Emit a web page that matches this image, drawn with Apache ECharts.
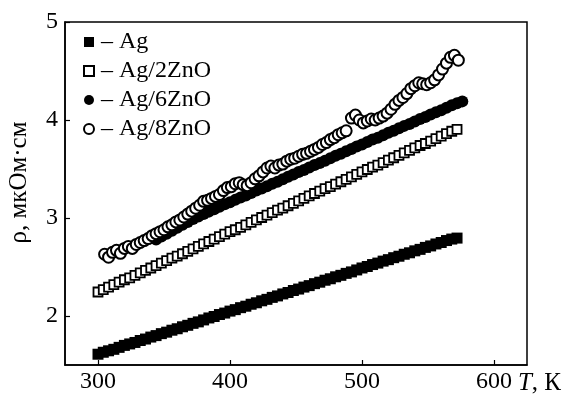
<!DOCTYPE html>
<html>
<head>
<meta charset="utf-8">
<script src="https://cdn.jsdelivr.net/npm/echarts@6/dist/echarts.min.js"></script>
<style>
html,body{margin:0;padding:0;background:#fff;}
#chart{width:566px;height:394px;}
</style>
</head>
<body>
<div id="chart"></div>
<script>
// Temperatures (K) for Ag and Ag/2ZnO
var tempA = [300,304,308,312,316,320,324,328,332,336,340,344,348,352,356,360,364,368,372,376,380,384,388,392,396,400,404,408,412,416,420,424,428,432,436,440,444,448,452,456,460,464,468,472,476,480,484,488,492,496,500,504,508,512,516,520,524,528,532,536,540,544,548,552,556,560,564,568,572];
var rhoAg = [1.61,1.63,1.645,1.66,1.68,1.70,1.715,1.73,1.75,1.765,1.785,1.80,1.82,1.835,1.855,1.87,1.89,1.905,1.925,1.94,1.96,1.98,1.995,2.015,2.03,2.05,2.065,2.085,2.10,2.12,2.135,2.155,2.17,2.19,2.205,2.225,2.24,2.26,2.275,2.295,2.31,2.33,2.345,2.365,2.38,2.40,2.415,2.435,2.45,2.47,2.49,2.505,2.525,2.54,2.56,2.575,2.595,2.61,2.63,2.645,2.665,2.68,2.70,2.715,2.735,2.75,2.77,2.785,2.795];
var rho2ZnO = [2.245,2.27,2.295,2.32,2.345,2.37,2.39,2.415,2.44,2.465,2.49,2.515,2.54,2.565,2.59,2.61,2.635,2.66,2.685,2.71,2.735,2.76,2.785,2.81,2.835,2.86,2.88,2.905,2.93,2.955,2.98,3.005,3.03,3.055,3.08,3.10,3.125,3.15,3.175,3.20,3.225,3.25,3.275,3.30,3.32,3.345,3.37,3.395,3.42,3.445,3.47,3.495,3.52,3.54,3.565,3.59,3.615,3.64,3.665,3.69,3.715,3.74,3.76,3.785,3.81,3.835,3.86,3.885,3.905];
// Ag/6ZnO
var temp6 = [344,348,352,356,360,364,368,372,376,380,384,388,392,396,400,404,408,412,416,420,424,428,432,436,440,444,448,452,456,460,464,468,472,476,480,484,488,492,496,500,504,508,512,516,520,524,528,532,536,540,544,548,552,556,560,564,568,572,576];
var rho6ZnO = [2.78,2.81,2.84,2.87,2.90,2.93,2.96,2.99,3.015,3.04,3.065,3.09,3.115,3.14,3.16,3.185,3.21,3.23,3.255,3.28,3.30,3.325,3.35,3.37,3.395,3.42,3.445,3.47,3.49,3.515,3.54,3.56,3.585,3.61,3.635,3.655,3.68,3.705,3.73,3.75,3.775,3.80,3.82,3.845,3.87,3.89,3.915,3.94,3.96,3.985,4.01,4.03,4.055,4.08,4.10,4.125,4.15,4.17,4.19];
// Ag/8ZnO
var temp8 = [305,308,311,314,317,320,323,326,329,332,335,338,341,344,347,350,353,356,359,362,365,368,371,374,377,380,383,386,389,392,395,398,401,404,407,410,413,416,419,422,425,428,431,434,437,440,443,446,449,452,455,458,461,464,467,470,473,476,479,482,485,488,492,495,498,501,504,507,510,513,516,519,522,525,528,531,534,537,540,543,546,549,552,555,558,561,564,567,570,573];
var rho8ZnO = [2.63,2.60,2.65,2.67,2.64,2.69,2.71,2.69,2.73,2.75,2.77,2.79,2.82,2.84,2.86,2.88,2.91,2.93,2.96,2.98,3.01,3.04,3.07,3.10,3.13,3.17,3.18,3.20,3.22,3.24,3.28,3.31,3.32,3.35,3.36,3.34,3.33,3.36,3.40,3.43,3.47,3.51,3.53,3.51,3.54,3.55,3.58,3.60,3.61,3.63,3.65,3.66,3.68,3.70,3.72,3.75,3.77,3.80,3.82,3.85,3.87,3.89,4.02,4.05,4.00,3.97,3.99,4.01,4.00,4.02,4.04,4.07,4.11,4.16,4.20,4.23,4.27,4.32,4.35,4.38,4.37,4.36,4.38,4.41,4.46,4.52,4.58,4.64,4.66,4.61];
var names = ['Ag','Ag/2ZnO','Ag/6ZnO','Ag/8ZnO'];
var xTicks = [300,400,500,600];
var yTicks = [2,3,4,5];

function zip(a,b){var r=[];for(var i=0;i<a.length;i++){r.push([a[i],b[i]]);}return r;}

var FONT = '"Liberation Serif","Times New Roman",serif';
var chart = echarts.init(document.getElementById('chart'), null, {renderer:'canvas'});
chart.setOption({
  animation:false,
  backgroundColor:'#fff',
  grid:{left:65,right:39,top:22,bottom:29,containLabel:false,outerBoundsMode:'none',show:true,borderColor:'#000',borderWidth:1.5,backgroundColor:'transparent'},
  legend:{
    orient:'vertical',left:78,top:25,itemWidth:10,itemHeight:10,itemGap:5,selectedMode:false,
    formatter:function(n){return '\u2013 '+n;},
    textStyle:{fontFamily:FONT,fontSize:24,color:'#000',padding:[0,0,0,2]},
    data:names
  },
  xAxis:{
    type:'value',min:275,max:625,
    axisLine:{show:true,lineStyle:{color:'#000',width:1.5}},
    axisTick:{show:true,inside:true,length:5,lineStyle:{color:'#000',width:1.2},customValues:xTicks},
    axisLabel:{show:true,margin:5,color:'#000',fontFamily:FONT,fontSize:24,customValues:xTicks},
    splitLine:{show:false},
    name:'{i|T}, \u041a',nameLocation:'end',nameGap:-10,
    nameTextStyle:{color:'#000',fontFamily:FONT,fontSize:25,verticalAlign:'top',padding:[6,0,0,0],
      rich:{i:{fontStyle:'italic',fontFamily:FONT,fontSize:25,color:'#000'}}}
  },
  yAxis:{
    type:'value',min:1.5,max:5,
    axisLine:{show:true,lineStyle:{color:'#000',width:1.5}},
    axisTick:{show:true,inside:true,length:5,lineStyle:{color:'#000',width:1.2},customValues:yTicks},
    axisLabel:{show:true,margin:7,color:'#000',fontFamily:FONT,fontSize:24,customValues:yTicks},
    splitLine:{show:false},
    name:'\u03c1, \u043c\u043a\u041e\u043c\u00b7\u0441\u043c',nameLocation:'middle',nameGap:33,nameRotate:90,
    nameTextStyle:{color:'#000',fontFamily:FONT,fontSize:25,padding:[0,0,0,22]}
  },
  series:[
    {name:names[0],type:'scatter',symbol:'rect',symbolSize:11,data:zip(tempA,rhoAg),
      itemStyle:{color:'#000',borderColor:'#000',borderWidth:0,opacity:1}},
    {name:names[1],type:'scatter',symbol:'rect',symbolSize:9,data:zip(tempA,rho2ZnO),
      itemStyle:{color:'#fff',borderColor:'#000',borderWidth:1.8,opacity:1}},
    {name:names[2],type:'scatter',symbol:'circle',symbolSize:12,data:zip(temp6,rho6ZnO),
      itemStyle:{color:'#000',borderColor:'#000',borderWidth:0,opacity:1}},
    {name:names[3],type:'scatter',symbol:'circle',symbolSize:11,data:zip(temp8,rho8ZnO),
      itemStyle:{color:'#fff',borderColor:'#000',borderWidth:2,opacity:1}}
  ]
});
</script>
</body>
</html>
